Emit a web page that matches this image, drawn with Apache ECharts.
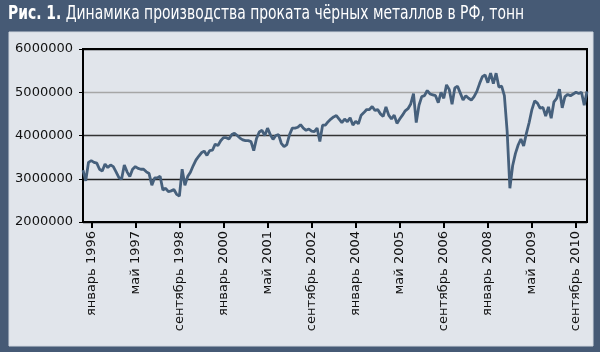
<!DOCTYPE html>
<html>
<head>
<meta charset="utf-8">
<script src="https://cdn.jsdelivr.net/npm/echarts@6/dist/echarts.min.js"></script>
<style>
  html, body { margin: 0; padding: 0; background: #465a75; }
  #chart { width: 600px; height: 352px; }
</style>
</head>
<body>
<div id="chart"></div>
<script>
// месяцы и начало ряда (октябрь 1995)
var monthNames = ['январь', 'февраль', 'март', 'апрель', 'май', 'июнь',
  'июль', 'август', 'сентябрь', 'октябрь', 'ноябрь', 'декабрь'];
var startYear = 1995;
var startMonth = 9;

// производство проката, тонн, по месяцам
var production = [
  3200000, 2950000, 3380000, 3420000, 3380000, 3360000, 3220000, 3180000, 3340000, 3260000,
  3320000, 3280000, 3160000, 3030000, 2990000, 3320000, 3160000, 3050000, 3220000, 3280000,
  3240000, 3220000, 3220000, 3160000, 3120000, 2850000, 3020000, 3020000, 3060000, 2740000,
  2780000, 2700000, 2720000, 2750000, 2640000, 2600000, 3220000, 2850000, 3050000, 3150000,
  3300000, 3430000, 3520000, 3600000, 3640000, 3540000, 3650000, 3660000, 3800000, 3770000,
  3880000, 3950000, 3950000, 3920000, 4020000, 4050000, 4000000, 3940000, 3900000, 3880000,
  3880000, 3860000, 3650000, 3930000, 4080000, 4120000, 4000000, 4170000, 4020000, 3910000,
  4000000, 4020000, 3820000, 3740000, 3790000, 4020000, 4170000, 4170000, 4190000, 4250000,
  4170000, 4120000, 4150000, 4100000, 4090000, 4170000, 3860000, 4240000, 4240000, 4320000,
  4380000, 4430000, 4460000, 4380000, 4300000, 4380000, 4320000, 4410000, 4240000, 4330000,
  4270000, 4470000, 4530000, 4600000, 4600000, 4670000, 4580000, 4600000, 4500000, 4440000,
  4660000, 4470000, 4380000, 4470000, 4280000, 4380000, 4470000, 4570000, 4620000, 4730000,
  4970000, 4300000, 4700000, 4900000, 4920000, 5040000, 4960000, 4940000, 4920000, 4760000,
  5000000, 4860000, 5170000, 5060000, 4720000, 5100000, 5140000, 4980000, 4820000, 4920000,
  4860000, 4820000, 4900000, 5020000, 5200000, 5360000, 5400000, 5220000, 5440000, 5200000,
  5440000, 5120000, 5140000, 4920000, 4100000, 2780000, 3300000, 3580000, 3780000, 3920000,
  3760000, 4050000, 4300000, 4600000, 4800000, 4750000, 4630000, 4650000, 4450000, 4660000,
  4400000, 4780000, 4860000, 5070000, 4640000, 4900000, 4950000, 4920000, 4960000, 5000000,
  4970000, 5000000, 4700000, 5020000
];

// подписи оси X: каждые 16 месяцев начиная с января 1996
var labelStart = 3;
var labelStep = 16;

var categories = [];
for (var i = 0; i < production.length; i++) {
  var m = (startMonth + i) % 12;
  var y = startYear + Math.floor((startMonth + i) / 12);
  categories.push(monthNames[m] + ' ' + y);
}

function showLabel(idx) {
  return idx >= labelStart && (idx - labelStart) % labelStep === 0;
}

var chart = echarts.init(document.getElementById('chart'), null, {renderer: 'canvas'});
chart.setOption({
  animation: false,
  graphic: [{
    type: 'rect',
    z: -10,
    shape: {x: 9, y: 32, width: 584, height: 314},
    style: {fill: '#e1e5eb', stroke: '#d0d7e0', lineWidth: 1}
  }, {
    // заголовок: шрифт в оригинале узкий, поэтому сжимаем по горизонтали
    type: 'text',
    x: 8,
    y: 5,
    scaleX: 0.732,
    style: {
      text: '{b|Рис. 1.} Динамика производства проката чёрных металлов в РФ, тонн',
      fill: '#fff',
      fontSize: 19,
      fontFamily: 'DejaVu Sans',
      textVerticalAlign: 'top',
      rich: {
        b: {fill: '#fff', fontSize: 19, fontWeight: 'bold', fontFamily: 'DejaVu Sans'}
      }
    }
  }],
  grid: {
    left: 83,
    right: 13,
    top: 49,
    bottom: 130,
    show: true,
    borderColor: '#000',
    borderWidth: 2,
    backgroundColor: 'transparent'
  },
  xAxis: {
    type: 'category',
    data: categories,
    boundaryGap: false,
    axisLine: {lineStyle: {color: '#000', width: 2}},
    axisTick: {
      interval: showLabel,
      length: 6,
      lineStyle: {color: '#000', width: 2}
    },
    axisLabel: {
      interval: showLabel,
      rotate: 90,
      margin: 9,
      color: '#111',
      fontSize: 13,
      fontFamily: 'DejaVu Sans'
    },
    splitLine: {show: false}
  },
  yAxis: {
    type: 'value',
    min: 2000000,
    max: 6000000,
    interval: 1000000,
    axisLine: {show: true, lineStyle: {color: '#000', width: 2}},
    axisTick: {show: true, length: 4, lineStyle: {color: '#000'}},
    axisLabel: {
      margin: 10,
      color: '#111',
      fontSize: 13,
      fontFamily: 'DejaVu Sans',
      formatter: function (v) { return String(v); }
    },
    splitLine: {
      lineStyle: {
        color: ['#000', '#222', '#333', '#a6a6a6', '#000'],
        width: 1.3
      }
    }
  },
  series: [{
    type: 'line',
    data: production,
    showSymbol: false,
    smooth: false,
    lineStyle: {color: '#46607c', width: 2.8},
    itemStyle: {color: '#46607c'}
  }]
});
</script>
</body>
</html>
